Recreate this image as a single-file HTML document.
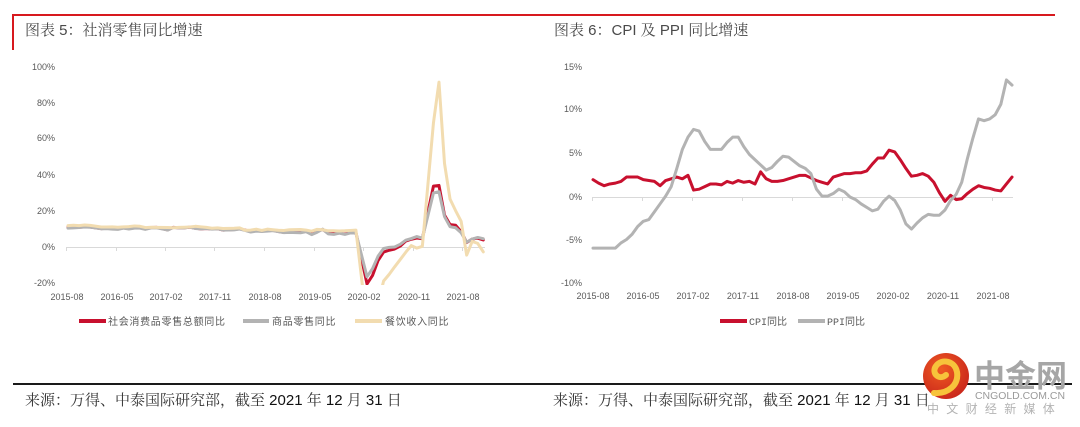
<!DOCTYPE html>
<html><head><meta charset="utf-8"><style>
html,body{margin:0;padding:0;background:#fff;}
svg{display:block;}
</style></head><body>
<svg width="1080" height="427" viewBox="0 0 1080 427" xmlns="http://www.w3.org/2000/svg">
<defs>
<clipPath id="cl"><rect x="60" y="55" width="440" height="230"/></clipPath>
<radialGradient id="lg" cx="0.4" cy="0.35" r="0.7"><stop offset="0" stop-color="#ef5a22"/><stop offset="1" stop-color="#c9261b"/></radialGradient>
</defs>
<rect width="1080" height="427" fill="#fff"/>
<!-- header lines -->
<rect x="12" y="14" width="1043" height="2" fill="#d7191e"/>
<rect x="12" y="14" width="2" height="36" fill="#d7191e"/>
<g font-family="'Liberation Sans','Noto Serif CJK SC',serif" fill="#4a4a4a" font-size="15">
<text x="25" y="35">图表 5：社消零售同比增速</text>
<text x="554" y="35">图表 6：CPI 及 PPI 同比增速</text>
</g>

<!-- LEFT CHART -->
<g font-family="'Liberation Sans',sans-serif" font-size="9" fill="#595959" text-anchor="end">
<text x="55" y="70">100%</text>
<text x="55" y="106">80%</text>
<text x="55" y="141">60%</text>
<text x="55" y="178">40%</text>
<text x="55" y="214">20%</text>
<text x="55" y="250">0%</text>
<text x="55" y="286">-20%</text>
</g>
<g stroke="#d9d9d9" stroke-width="1">
<line x1="66" y1="247.5" x2="485" y2="247.5"/>
<line x1="66.5" y1="247" x2="66.5" y2="251"/>
<line x1="116.5" y1="247" x2="116.5" y2="251"/>
<line x1="165.5" y1="247" x2="165.5" y2="251"/>
<line x1="214.5" y1="247" x2="214.5" y2="251"/>
<line x1="264.5" y1="247" x2="264.5" y2="251"/>
<line x1="314.5" y1="247" x2="314.5" y2="251"/>
<line x1="363.5" y1="247" x2="363.5" y2="251"/>
<line x1="413.5" y1="247" x2="413.5" y2="251"/>
<line x1="462.5" y1="247" x2="462.5" y2="251"/>
</g>
<g font-family="'Liberation Sans',sans-serif" font-size="9" fill="#595959" text-anchor="middle">
<text x="67" y="300">2015-08</text>
<text x="117" y="300">2016-05</text>
<text x="166" y="300">2017-02</text>
<text x="215" y="300">2017-11</text>
<text x="265" y="300">2018-08</text>
<text x="315" y="300">2019-05</text>
<text x="364" y="300">2020-02</text>
<text x="414" y="300">2020-11</text>
<text x="463" y="300">2021-08</text>
</g>
<g clip-path="url(#cl)">
<g transform="translate(68,247) scale(5.537,-1.8)" fill="none" stroke-linejoin="round" stroke-linecap="round">
<polyline vector-effect="non-scaling-stroke" stroke="#c8102e" stroke-width="3" points="0,10.8 1,10.9 2,11.0 3,11.2 4,11.1 6,10.2 7,10.5 8,10.1 9,10.0 10,10.6 11,10.2 12,10.6 13,10.7 14,10.0 15,10.8 16,10.9 18,9.5 19,10.9 20,10.7 21,10.7 22,11.0 23,10.4 24,10.1 25,10.3 26,10.0 27,10.2 28,9.4 30,9.7 31,10.1 32,9.4 33,8.5 34,9.0 35,8.8 36,9.0 37,9.2 38,8.6 39,8.1 40,8.2 42,8.2 43,8.7 44,7.2 45,8.6 46,9.8 47,7.6 48,7.5 49,7.8 50,7.2 51,8.0 52,8.0 54,-20.5 55,-15.8 56,-7.5 57,-2.8 58,-1.8 59,-1.1 60,0.5 61,3.3 62,4.3 63,5.0 64,4.6 66,33.8 67,34.2 68,17.7 69,12.4 70,12.1 71,8.5 72,2.5 73,4.4 74,4.9 75,3.9"/>
<polyline vector-effect="non-scaling-stroke" stroke="#b3b3b3" stroke-width="3" points="0,10.5 1,10.6 2,10.8 3,11.1 4,11.0 6,10.1 7,10.2 8,9.9 9,9.8 10,10.5 11,10.0 12,10.5 13,10.5 14,9.8 15,10.6 16,10.7 18,9.4 19,10.8 20,10.6 21,10.6 22,11.0 23,10.3 24,10.1 25,10.3 26,9.9 27,10.1 28,9.4 30,9.5 31,10.0 32,9.2 33,8.3 34,8.8 35,8.6 36,8.8 37,9.1 38,8.5 39,8.0 40,8.1 42,7.9 43,8.5 44,6.9 45,8.2 46,9.9 47,7.3 48,7.0 49,7.7 50,7.0 51,7.8 52,7.8 54,-16.5 55,-12.0 56,-5.1 57,-0.8 58,-0.2 59,0.0 60,1.5 61,3.8 62,4.7 63,5.8 64,4.9 66,30.0 67,30.7 68,16.9 69,11.3 70,10.7 71,7.9 72,2.7 73,4.4 74,5.3 75,4.6"/>
<polyline vector-effect="non-scaling-stroke" stroke="#f2dcb0" stroke-width="3" points="0,11.9 1,12.1 2,11.9 3,12.2 4,12.0 6,11.1 7,11.1 8,11.2 9,11.0 10,11.2 11,11.3 12,11.7 13,11.5 14,10.8 15,11.0 16,10.9 18,10.8 19,10.7 20,10.9 21,11.0 22,11.1 23,11.5 24,11.2 25,10.9 26,10.4 27,10.6 28,10.3 30,10.4 31,10.6 32,9.3 33,9.4 34,9.9 35,9.2 36,9.9 37,9.6 38,9.3 39,9.2 40,9.6 42,9.7 43,9.4 44,8.8 45,9.8 46,9.6 47,9.0 48,9.0 49,8.9 50,9.0 51,9.2 52,9.4 54,-43.1 55,-46.8 56,-31.1 57,-18.9 58,-15.2 59,-11.0 60,-7.0 61,-2.9 62,0.8 63,-0.6 64,0.4 66,68.9 67,91.6 68,46.4 69,26.6 70,20.2 71,14.3 72,-4.5 73,3.1 74,2.0 75,-2.7"/>
</g>
</g>
<!-- left legend -->
<g stroke-width="4">
<line x1="79" y1="321" x2="106" y2="321" stroke="#c8102e"/>
<line x1="243" y1="321" x2="269" y2="321" stroke="#b3b3b3"/>
<line x1="355" y1="321" x2="382" y2="321" stroke="#f2dcb0"/>
</g>
<g font-family="'Liberation Sans','Noto Sans CJK SC',sans-serif" font-size="10" fill="#595959" letter-spacing="0.7">
<text x="108" y="325">社会消费品零售总额同比</text>
<text x="272" y="325">商品零售同比</text>
<text x="385" y="325">餐饮收入同比</text>
</g>

<!-- RIGHT CHART -->
<g font-family="'Liberation Sans',sans-serif" font-size="9" fill="#595959" text-anchor="end">
<text x="582" y="70">15%</text>
<text x="582" y="112">10%</text>
<text x="582" y="156">5%</text>
<text x="582" y="200">0%</text>
<text x="582" y="243">-5%</text>
<text x="582" y="286">-10%</text>
</g>
<g stroke="#d9d9d9" stroke-width="1">
<line x1="592" y1="197.5" x2="1013" y2="197.5"/>
<line x1="592.5" y1="197" x2="592.5" y2="201"/>
<line x1="642.5" y1="197" x2="642.5" y2="201"/>
<line x1="692.5" y1="197" x2="692.5" y2="201"/>
<line x1="742.5" y1="197" x2="742.5" y2="201"/>
<line x1="792.5" y1="197" x2="792.5" y2="201"/>
<line x1="842.5" y1="197" x2="842.5" y2="201"/>
<line x1="892.5" y1="197" x2="892.5" y2="201"/>
<line x1="942.5" y1="197" x2="942.5" y2="201"/>
<line x1="992.5" y1="197" x2="992.5" y2="201"/>
</g>
<g font-family="'Liberation Sans',sans-serif" font-size="9" fill="#595959" text-anchor="middle">
<text x="593" y="299">2015-08</text>
<text x="643" y="299">2016-05</text>
<text x="693" y="299">2017-02</text>
<text x="743" y="299">2017-11</text>
<text x="793" y="299">2018-08</text>
<text x="843" y="299">2019-05</text>
<text x="893" y="299">2020-02</text>
<text x="943" y="299">2020-11</text>
<text x="993" y="299">2021-08</text>
</g>
<g transform="translate(593,197) scale(5.587,-8.67)" fill="none" stroke-linejoin="round" stroke-linecap="round">
<polyline vector-effect="non-scaling-stroke" stroke="#c8102e" stroke-width="3" points="0,2.0 1,1.6 2,1.3 3,1.5 4,1.6 5,1.8 6,2.3 7,2.3 8,2.3 9,2.0 10,1.9 11,1.8 12,1.3 13,1.9 14,2.1 15,2.3 16,2.1 17,2.5 18,0.8 19,0.9 20,1.2 21,1.5 22,1.5 23,1.4 24,1.8 25,1.6 26,1.9 27,1.7 28,1.8 29,1.5 30,2.9 31,2.1 32,1.8 33,1.8 34,1.9 35,2.1 36,2.3 37,2.5 38,2.5 39,2.2 40,1.9 41,1.7 42,1.5 43,2.3 44,2.5 45,2.7 46,2.7 47,2.8 48,2.8 49,3.0 50,3.8 51,4.5 52,4.5 53,5.4 54,5.2 55,4.3 56,3.3 57,2.4 58,2.5 59,2.7 60,2.4 61,1.7 62,0.5 63,-0.5 64,0.2 65,-0.3 66,-0.2 67,0.4 68,0.9 69,1.3 70,1.1 71,1.0 72,0.8 73,0.7 74,1.5 75,2.3"/>
<polyline vector-effect="non-scaling-stroke" stroke="#b3b3b3" stroke-width="3" points="0,-5.9 1,-5.9 2,-5.9 3,-5.9 4,-5.9 5,-5.3 6,-4.9 7,-4.3 8,-3.4 9,-2.8 10,-2.6 11,-1.7 12,-0.8 13,0.1 14,1.2 15,3.3 16,5.5 17,6.9 18,7.8 19,7.6 20,6.4 21,5.5 22,5.5 23,5.5 24,6.3 25,6.9 26,6.9 27,5.8 28,4.9 29,4.3 30,3.7 31,3.1 32,3.4 33,4.1 34,4.7 35,4.6 36,4.1 37,3.6 38,3.3 39,2.7 40,0.9 41,0.1 42,0.1 43,0.4 44,0.9 45,0.6 46,0.0 47,-0.3 48,-0.8 49,-1.2 50,-1.6 51,-1.4 52,-0.5 53,0.1 54,-0.4 55,-1.5 56,-3.1 57,-3.7 58,-3.0 59,-2.4 60,-2.0 61,-2.1 62,-2.1 63,-1.5 64,-0.4 65,0.3 66,1.7 67,4.4 68,6.8 69,9.0 70,8.8 71,9.0 72,9.5 73,10.7 74,13.5 75,12.9"/>
</g>
<!-- right legend -->
<g stroke-width="4">
<line x1="720" y1="321" x2="747" y2="321" stroke="#c8102e"/>
<line x1="798" y1="321" x2="825" y2="321" stroke="#b3b3b3"/>
</g>
<g font-size="10" fill="#595959">
<text x="749" y="325" font-family="'Liberation Mono',monospace">CPI<tspan font-family="'Liberation Sans','Noto Sans CJK SC',sans-serif">同比</tspan></text>
<text x="827" y="325" font-family="'Liberation Mono',monospace">PPI<tspan font-family="'Liberation Sans','Noto Sans CJK SC',sans-serif">同比</tspan></text>
</g>

<!-- bottom rule and sources -->
<rect x="13" y="383" width="1059" height="2" fill="#1a1a1a"/>
<g font-family="'Liberation Sans','Noto Serif CJK SC',serif" font-size="15" fill="#333">
<text x="25" y="405">来源：万得、中泰国际研究部，截至 <tspan fill="#111">2021</tspan> 年 <tspan fill="#111">12</tspan> 月 <tspan fill="#111">31</tspan> 日</text>
<text x="553" y="405">来源：万得、中泰国际研究部，截至 <tspan fill="#111">2021</tspan> 年 <tspan fill="#111">12</tspan> 月 <tspan fill="#111">31</tspan> 日</text>
</g>

<!-- watermark logo -->
<circle cx="946" cy="376" r="23" fill="url(#lg)"/>
<path d="M934,393 C948,394 959,385 957,372 C955,361 942,358 936,366 C931,373 939,381 946,375" stroke="#f7c33b" stroke-width="6" fill="none" stroke-linecap="round"/>
<text x="974" y="387" font-family="'Noto Sans CJK SC',sans-serif" font-size="31" font-weight="bold" fill="#a6a6a6">中金网</text>
<text x="975" y="399" font-family="'Liberation Sans',sans-serif" font-size="10" fill="#9a9a9a" textLength="90" lengthAdjust="spacingAndGlyphs">CNGOLD.COM.CN</text>
<text x="927" y="413" font-family="'Noto Sans CJK SC',sans-serif" font-size="12" fill="#b3b3b3" letter-spacing="7.3">中文财经新媒体</text>
</svg>
</body></html>
